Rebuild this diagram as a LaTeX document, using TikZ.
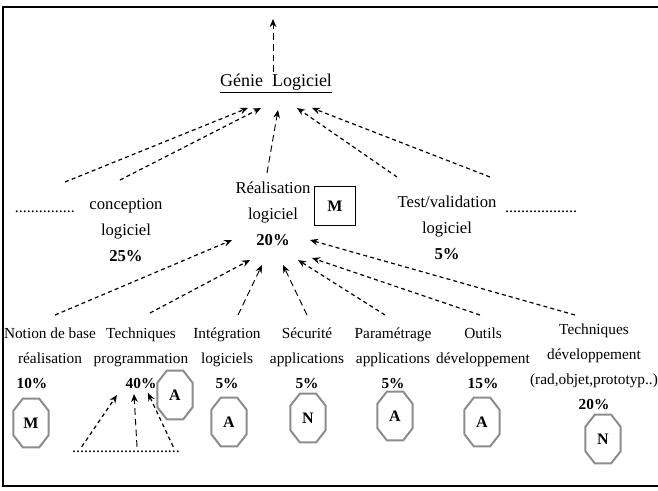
\documentclass[tikz,border=0pt]{standalone}
\usepackage{fontspec}
\setmainfont{Liberation Serif}
\usetikzlibrary{arrows.meta,calc}
\tikzset{lbl/.style={
    align=center, inner sep=1pt,
    font=\fontsize{12.5}{19.5}\selectfont
  },
  sublbl/.style={
    align=center, inner sep=1pt,
    font=\fontsize{11.5}{18.8}\selectfont
  },
  oct/.style={
    minimum width=26pt, minimum height=36pt, inner sep=0pt,
    font=\fontsize{12}{12}\selectfont\bfseries
  },
  octline/.style={
    draw=black!45, line width=1.5pt, line join=miter
  },
  dots/.style={
    inner sep=0pt, font=\fontsize{12}{12}\selectfont
  },
  link/.style={
    ->,>={Stealth[length=6pt,width=5pt]}, line width=0.9pt,
    dash pattern=on 3pt off 2.4pt
  },
  longlink/.style={
    link, line width=0.7pt, dash pattern=on 5pt off 3pt
  }
}

\begin{document}
\begin{tikzpicture}[x=0.75pt,y=-0.75pt]
  \useasboundingbox (0,0) rectangle (658,491);
  % -- Draw the frame (open on the right).
  \draw[line width=1.5pt] (658,7) -- (3,7) -- (3,486) -- (658,486);

  % -- Top level.
  \node[lbl, font=\fontsize{13.5}{16}\selectfont] (gl) at (276,84) {\underline{Génie\ \ Logiciel}};
  \coordinate (up) at (273,19);

  % -- Second level.
  \node[dots] (dotL) at (45,212) {...............};
  \node[lbl] (conc) at (126,230) {conception\\logiciel\\\textbf{25\%}};
  \node[lbl] (real) at (273,214) {Réalisation\\logiciel\\\textbf{20\%}};
  \node[draw, line width=0.8pt, minimum width=31pt, minimum height=29pt, font=\fontsize{12}{12}\selectfont\bfseries] (mbox) at (335,206) {M};
  \node[lbl] (test) at (447,228) {Test/validation\\logiciel\\\textbf{5\%}};
  \node[dots] (dotR) at (541,212) {..................};

  % -- Third level.
  \node[sublbl] (notion) at (50,358) {Notion de base\\réalisation\\\textbf{10\%}\hspace*{27pt}};
  \node[sublbl] (tprog) at (141,358) {Techniques\\programmation\\\textbf{40\%}};
  \node[sublbl] (integ) at (227,358) {Intégration\\logiciels\\\textbf{5\%}};
  \node[sublbl] (secu) at (307,358) {Sécurité\\applications\\\textbf{5\%}};
  \node[sublbl] (param) at (393,358) {Paramétrage\\applications\\\textbf{5\%}};
  \node[sublbl] (outils) at (483,358) {Outils\\développement\\\textbf{15\%}};
  \node[sublbl] (tdev) at (594,367) {Techniques\\développement\\(rad,objet,prototyp..)\\\textbf{20\%}};
  \node[dots] (dotB) at (126,452) {...........................};

  % -- Levels (octagons).
  \node[oct] (oM) at (31,423) {M};
  \node[oct] (oA1) at (175,395) {A};
  \node[oct] (oA2) at (229,422) {A};
  \node[oct] (oN1) at (308,418) {N};
  \node[oct] (oA3) at (395,416) {A};
  \node[oct] (oA4) at (482,422) {A};
  \node[oct] (oN2) at (603,439) {N};
  \foreach \o in {oM,oA1,oA2,oN1,oA3,oA4,oN2}
    \draw[octline] ([xshift=7pt]\o.north west) -- ([xshift=-7pt]\o.north east)
      -- ([yshift=-9pt]\o.north east) -- ([yshift=9pt]\o.south east)
      -- ([xshift=-7pt]\o.south east) -- ([xshift=7pt]\o.south west)
      -- ([yshift=9pt]\o.south west) -- ([yshift=-9pt]\o.north west) -- cycle;

  % -- Arrows up to Génie Logiciel.
  \draw[longlink] ($(gl)+(-3,-12)$) -- (up);
  \draw[link] ($(dotL)+(20,-30)$) -- ($(gl)+(-28,24)$);
  \draw[link] ($(conc)+(-6,-50)$) -- ($(gl)+(-15,24)$);
  \draw[longlink] ($(real)+(-6,-41)$) -- ($(gl)+(2,26)$);
  \draw[link] ($(test)+(-50,-51)$) -- ($(gl)+(21,24)$);
  \draw[link] ($(dotR)+(-51,-35)$) -- ($(gl)+(36,24)$);

  % -- Arrows up to Réalisation.
  \draw[link] ($(notion)+(5,-43)$) -- ($(real)+(-41,26)$);
  \draw[link] ($(tprog)+(9,-45)$) -- ($(real)+(-23,46)$);
  \draw[longlink] ($(integ)+(11,-43)$) -- ($(real)+(-11,51)$);
  \draw[longlink] ($(secu)+(0,-43)$) -- ($(real)+(10,51)$);
  \draw[link] ($(param)+(-8,-43)$) -- ($(real)+(25,46)$);
  \draw[link] ($(outils)+(-3,-43)$) -- ($(real)+(39,44)$);
  \draw[link] ($(tdev)+(-19,-52)$) -- ($(real)+(37,26)$);

  % -- Arrows up to Techniques programmation.
  \draw[link] ($(dotB.north west)+(10,-4)$) -- ($(tprog)+(-24,37)$);
  \draw[longlink] ($(dotB.north)+(11,-4)$) -- ($(tprog)+(-7,36)$);
  \draw[link] ($(dotB.north east)+(-7,-4)$) -- ($(tprog)+(7,35)$);
\end{tikzpicture}
\end{document}
